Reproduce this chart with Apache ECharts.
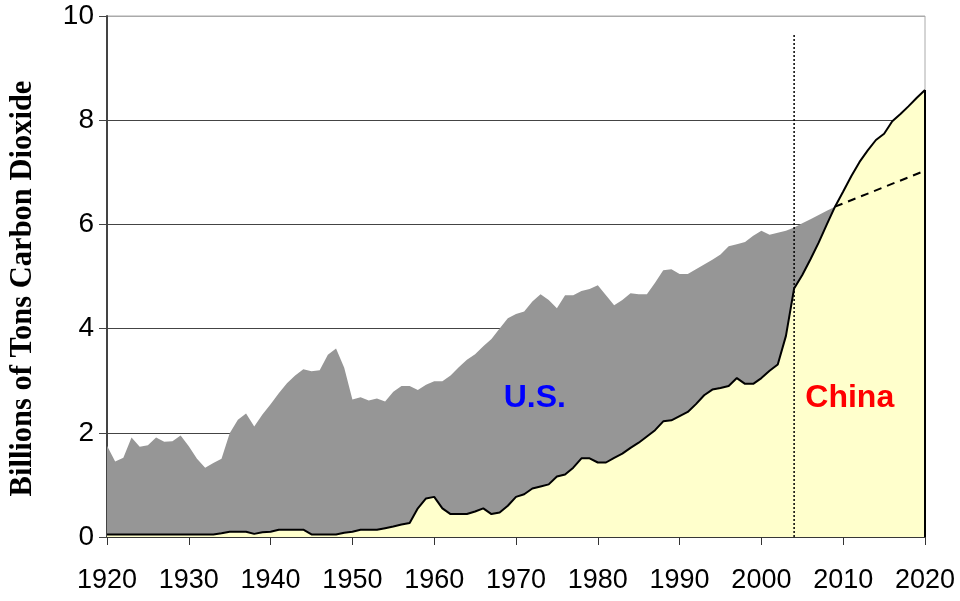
<!DOCTYPE html>
<html>
<head>
<meta charset="utf-8">
<script src="https://cdn.jsdelivr.net/npm/echarts@6/dist/echarts.min.js"></script>
<style>
html,body{margin:0;padding:0;background:#fff;}
#chart{width:960px;height:601px;}
</style>
</head>
<body>
<div id="chart"></div>
<script>
// ---- data ----
var usYears = [];
for (var y = 1920; y <= 2009; y++) usYears.push(y);
var usValues = [
  1.75,1.45,1.52,1.91,1.73,1.76,1.91,1.83,1.84,1.95,
  1.74,1.50,1.33,1.42,1.50,1.99,2.25,2.37,2.12,2.35,
  2.55,2.76,2.95,3.10,3.22,3.18,3.20,3.50,3.62,3.25,
  2.64,2.68,2.62,2.66,2.60,2.79,2.90,2.90,2.82,2.92,
  2.99,2.99,3.10,3.26,3.40,3.51,3.66,3.80,4.00,4.20,
  4.28,4.33,4.52,4.66,4.55,4.39,4.64,4.64,4.72,4.76,
  4.83,4.64,4.45,4.55,4.68,4.66,4.66,4.88,5.12,5.14,
  5.05,5.05,5.14,5.23,5.32,5.42,5.58,5.62,5.66,5.78,
  5.88,5.80,5.84,5.88,5.94,6.02,6.10,6.18,6.26,6.34
];
var usProjYears = [2009, 2020];
var usProjValues = [6.34, 7.03];

var chinaYears = [];
for (var y2 = 1920; y2 <= 2020; y2++) chinaYears.push(y2);
var chinaValues = [
  0.05,0.05,0.05,0.05,0.05,0.05,0.05,0.05,0.05,0.05,
  0.05,0.05,0.05,0.05,0.07,0.10,0.10,0.10,0.06,0.09,
  0.10,0.14,0.14,0.14,0.14,0.05,0.05,0.05,0.05,0.08,
  0.10,0.14,0.14,0.14,0.17,0.20,0.24,0.27,0.55,0.74,
  0.77,0.55,0.44,0.44,0.44,0.49,0.55,0.44,0.47,0.60,
  0.77,0.82,0.93,0.97,1.01,1.16,1.20,1.33,1.51,1.51,
  1.43,1.43,1.52,1.60,1.71,1.81,1.93,2.05,2.22,2.24,
  2.32,2.40,2.55,2.72,2.83,2.86,2.90,3.05,2.94,2.94,
  3.05,3.19,3.31,3.86,4.77,5.03,5.33,5.65,6.00,6.34,
  6.63,6.93,7.20,7.42,7.62,7.74,7.98,8.12,8.27,8.43,
  8.58
];
var dividerYear = 2004;
var dividerTop = 9.67;
var xTicks = [1920,1930,1940,1950,1960,1970,1980,1990,2000,2010,2020];
var yTicks = [0,2,4,6,8,10];
var usLabel = {text: 'U.S.', year: 1972.3, value: 2.67};
var chinaLabel = {text: 'China', year: 2010.8, value: 2.67};

function pairs(xs, vs){ return xs.map(function(x,i){ return [x, vs[i]]; }); }

var chart = echarts.init(document.getElementById('chart'), null, {renderer:'canvas'});
var lastChina = chinaValues[chinaValues.length-1];
var lastYear = chinaYears[chinaYears.length-1];
var tickFont = '"Liberation Sans", Arial, sans-serif';

var option = {
  backgroundColor: '#ffffff',
  animation: false,
  grid: {left: 107, right: 35, top: 16, bottom: 64, show: true, borderColor: '#aaaaaa', borderWidth: 1,
         containLabel: false, outerBoundsMode: 'none'},
  xAxis: {
    type: 'value', min: xTicks[0], max: xTicks[xTicks.length-1], interval: 10,
    axisLine: {show: true, lineStyle: {color: '#333', width: 1.5}},
    axisTick: {show: true, inside: false, length: 8, lineStyle: {color: '#333'}},
    splitLine: {show: false},
    axisLabel: {color: '#000', fontSize: 27, fontFamily: tickFont, margin: 30,
      formatter: function(v){ return String(v); }}
  },
  yAxis: {
    type: 'value', min: yTicks[0], max: yTicks[yTicks.length-1], interval: 2,
    name: 'Billions of Tons Carbon Dioxide', nameLocation: 'middle', nameRotate: 90, nameGap: 68,
    nameTextStyle: {color: '#000', fontSize: 30.5, fontWeight: 'bold', fontFamily: '"Liberation Serif", "Times New Roman", serif',
      padding: [0, 24, 0, 0]},
    axisLine: {show: true, lineStyle: {color: '#444', width: 2}},
    axisTick: {show: true, inside: false, length: 8, lineStyle: {color: '#444'}},
    splitLine: {show: true, lineStyle: {color: ['#444','#444','#444','#444','#444','#aaaaaa'], width: 1}},
    axisLabel: {color: '#000', fontSize: 28, fontFamily: tickFont, margin: 13}
  },
  series: [
    {
      name: 'U.S.', type: 'line', data: pairs(usYears, usValues), symbol: 'none',
      lineStyle: {width: 0, opacity: 0}, areaStyle: {color: '#969696', opacity: 1}, z: 2,
      markPoint: {
        symbol: 'circle', symbolSize: 0,
        data: [{coord: [usLabel.year, usLabel.value], value: usLabel.text}],
        label: {show: true, position: 'inside', formatter: usLabel.text, color: '#0000ff', fontSize: 32, fontWeight: 'bold', fontFamily: '"Liberation Sans", Arial, sans-serif'}
      }
    },
    {
      name: 'China', type: 'line', data: pairs(chinaYears, chinaValues), symbol: 'none',
      lineStyle: {color: '#000', width: 2}, areaStyle: {color: '#ffffcc', opacity: 1}, z: 3,
      markPoint: {
        symbol: 'circle', symbolSize: 0,
        data: [{coord: [chinaLabel.year, chinaLabel.value], value: chinaLabel.text}],
        label: {show: true, position: 'inside', formatter: chinaLabel.text, color: '#ff0000', fontSize: 32, fontWeight: 'bold', fontFamily: '"Liberation Sans", Arial, sans-serif'}
      }
    },
    {
      name: 'China edge', type: 'line', data: [[lastYear, 0], [lastYear, lastChina]], symbol: 'none',
      lineStyle: {color: '#000', width: 2}, z: 4
    },
    {
      name: 'U.S. projection', type: 'line', data: pairs(usProjYears, usProjValues), symbol: 'none',
      lineStyle: {color: '#000', width: 2, type: [8, 6]}, z: 5
    },
    {
      name: 'divider', type: 'line', data: [[dividerYear, 0], [dividerYear, dividerTop]], symbol: 'none',
      lineStyle: {color: '#000', width: 1.5, type: [2, 2]}, z: 6
    }
  ]
};
chart.setOption(option);
</script>
</body>
</html>
